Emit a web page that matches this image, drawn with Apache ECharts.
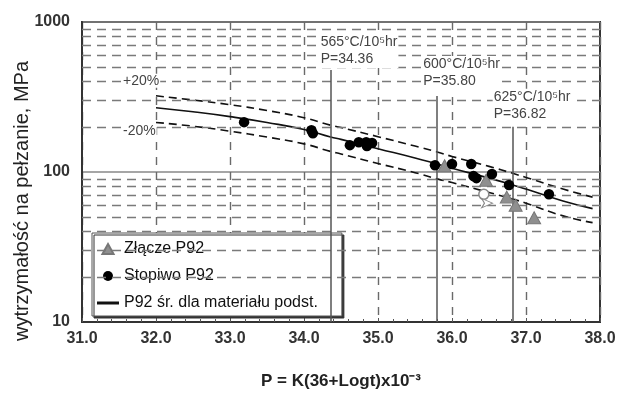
<!DOCTYPE html>
<html><head><meta charset="utf-8">
<script src="https://cdn.jsdelivr.net/npm/echarts/dist/echarts.min.js"></script>
<style>html,body{margin:0;padding:0;background:#fff}#c{width:617px;height:395px}</style>
</head><body><div id="c"></div>
<script>
// ---- data ----
const minorGridValues = [20,30,40,50,60,70,80,90,200,300,400,500,600,700,800,900];
const meanP  = [32.0,32.5,33.0,33.5,34.0,34.36,34.5,35.0,35.5,35.8,36.0,36.5,36.82,37.0,37.5,37.9];
const meanS  = [268,252,234,214,192,171,165,143,124,113,106,91,82,77,64,57];
const upperS = [322,302,281,257,230,205,198,172,149,136,127,109,98,92,77,68];
const lowerS = [214,202,187,171,154,137,132,114,99,90,85,73,66,62,51,46];
const zlaczeP  = [35.90,36.46,36.74,36.86,37.11];
const zlaczeS  = [110,88,68,60,49.5];
const stopiwoP = [33.19,34.10,34.12,34.62,34.74,34.84,34.85,34.92,35.77,36.00,36.26,36.29,36.33,36.54,36.77,37.31];
const stopiwoS = [215,190,181,151,158,158,149,156,111,113,113,94,91,97,82,71];
const runoutP = [36.43];
const runoutS = [71];
const arrowP = [36.55];
const arrowS = [62];
const annotP = [34.36,35.80,36.82];
const annotTemp = ['565','600','625'];
const annotTop = [478,321,200];
const xLabels = ['31.0','32.0','33.0','34.0','35.0','36.0','37.0','38.0'];
const yLabels = {10: '10', 100: '100', 1000: '1000'};

const FONT = 'Liberation Sans, Arial, sans-serif';
const pair = (xs, ys) => xs.map((x, i) => [x, ys[i]]);
const annotOffsets = [[-11,-36],[-15,-40],[-20,-38]];

const chart = echarts.init(document.getElementById('c'), null, {renderer:'canvas'});
chart.setOption({
  animation: false,
  backgroundColor: '#fff',
  textStyle: {fontFamily: FONT},
  grid: {left: 82, right: 17, top: 22, bottom: 73, show: true, borderColor: '#333', borderWidth: 2,
         backgroundColor: 'transparent', containLabel: false, outerBoundsMode: 'none'},
  xAxis: {
    type: 'value', min: 31, max: 38, interval: 1,
    axisLine: {show: true, lineStyle: {color: '#333', width: 2}},
    axisTick: {show: true, inside: true, length: 4, lineStyle: {color: '#555', width: 1}},
    minorTick: {show: true, splitNumber: 5, length: 3, lineStyle: {color: '#555', width: 1}},
    axisLabel: {fontSize: 16, fontWeight: 'bold', color: '#333', margin: 9, fontFamily: FONT,
                formatter: v => xLabels[Math.round(v - 31)]},
    splitLine: {show: true, lineStyle: {color: '#6a6a6a', width: 1.4, type: [8, 7]}}
  },
  yAxis: {
    type: 'log', logBase: 10, min: 10, max: 1000,
    axisLine: {show: true, lineStyle: {color: '#333', width: 2}},
    axisTick: {show: false},
    axisLabel: {fontSize: 16, fontWeight: 'bold', color: '#333', margin: 12, fontFamily: FONT,
                formatter: v => yLabels[Math.round(v)] || ''},
    splitLine: {show: true, lineStyle: {color: '#888', width: 1.5, type: 'solid'}}
  },
  legend: {
    orient: 'vertical', left: 92, top: 233,
    padding: [7, 24, 4, 5], itemGap: 9, itemWidth: 22, itemHeight: 10,
    backgroundColor: '#fff', borderColor: '#555', borderWidth: 1,
    shadowColor: '#333', shadowOffsetX: 2, shadowOffsetY: 2, shadowBlur: 0,
    textStyle: {fontSize: 16, color: '#111', fontFamily: FONT, lineHeight: 18},
    data: [
      {name: 'Złącze P92', icon: 'path://M5,0L10,9L0,9Z'},
      {name: 'Stopiwo P92', icon: 'circle'},
      {name: 'P92 śr. dla materiału podst.', icon: 'path://M0,0H22V3H0Z', itemStyle: {color: '#111', borderWidth: 0}}
    ]
  },
  series: [
    { name: 'grid', type: 'line', data: [], z: 1, silent: true,
      markLine: { silent: true, symbol: ['none','none'], animation: false,
        label: {show: false},
        lineStyle: {color: '#7a7a7a', width: 1.3, type: [9, 6]},
        data: minorGridValues.map(v => ({yAxis: v})) } },
    { name: 'annot', type: 'line', data: [], z: 2, silent: true,
      markLine: { silent: true, symbol: ['none','none'], animation: false,
        label: {show: false},
        lineStyle: {color: '#555', width: 1.5, type: 'solid'},
        data: annotP.map((p, i) => [{coord: [p, annotTop[i]]}, {coord: [p, 10]}]) },
      markPoint: { silent: true, symbol: 'circle', symbolSize: 0, animation: false,
        itemStyle: {color: 'transparent'},
        data: annotP.map((p, i) => ({
          coord: [p, annotTop[i]],
          label: { show: true, position: annotOffsets[i], align: 'left', verticalAlign: 'top',
            formatter: annotTemp[i] + '°C/10⁵hr\nP=' + p.toFixed(2),
            fontSize: 14, lineHeight: 17, color: '#444', fontFamily: FONT,
            backgroundColor: '#fff', padding: [0, 1] }
        })) } },
    { name: 'upper', type: 'line', data: pair(meanP, upperS), z: 3, silent: true,
      showSymbol: false, symbol: 'none', smooth: true,
      lineStyle: {color: '#111', width: 1.6, type: [8, 5]},
      markPoint: { silent: true, symbol: 'circle', symbolSize: 0, itemStyle: {color: 'transparent'},
        data: [{coord: [meanP[0], upperS[0]],
          label: {show: true, position: [-34, -22], align: 'left', verticalAlign: 'top',
            formatter: '+20%', fontSize: 14, color: '#444', fontFamily: FONT,
            backgroundColor: '#fff', padding: [0, 1]}}] } },
    { name: 'lower', type: 'line', data: pair(meanP, lowerS), z: 3, silent: true,
      showSymbol: false, symbol: 'none', smooth: true,
      lineStyle: {color: '#111', width: 1.6, type: [8, 5]},
      markPoint: { silent: true, symbol: 'circle', symbolSize: 0, itemStyle: {color: 'transparent'},
        data: [{coord: [meanP[0], lowerS[0]],
          label: {show: true, position: [-34, 2], align: 'left', verticalAlign: 'top',
            formatter: '-20%', fontSize: 14, color: '#444', fontFamily: FONT,
            backgroundColor: '#fff', padding: [0, 1]}}] } },
    { name: 'P92 śr. dla materiału podst.', type: 'line', data: pair(meanP, meanS), z: 4,
      showSymbol: false, symbol: 'none', smooth: true,
      itemStyle: {color: '#111'}, lineStyle: {color: '#111', width: 1.6} },
    { name: 'Złącze P92', type: 'scatter', data: pair(zlaczeP, zlaczeS), z: 5,
      symbol: 'triangle', symbolSize: [13, 12],
      itemStyle: {color: '#8f8f8f', borderColor: '#777', borderWidth: 1, opacity: 1} },
    { name: 'Stopiwo P92', type: 'scatter', data: pair(stopiwoP, stopiwoS), z: 6,
      symbol: 'circle', symbolSize: 10.5,
      itemStyle: {color: '#000', opacity: 1} },
    { name: 'runout', type: 'scatter', data: pair(runoutP, runoutS), z: 6,
      symbol: 'circle', symbolSize: 10,
      itemStyle: {color: '#fff', borderColor: '#888', borderWidth: 1.5, opacity: 1} },
    { name: 'arrow', type: 'scatter', data: pair(arrowP, arrowS), z: 6,
      symbol: 'arrow', symbolSize: [7, 11], symbolRotate: -90,
      itemStyle: {color: '#fff', borderColor: '#888', borderWidth: 1, opacity: 1} }
  ],
  graphic: [
    { type: 'text', x: 22, y: 201, rotation: Math.PI / 2, silent: true,
      style: {text: 'wytrzymałość na pełzanie, MPa', fontSize: 20, fontFamily: FONT, fill: '#222',
              align: 'center', verticalAlign: 'middle'} },
    { type: 'text', x: 341, y: 381, silent: true,
      style: {text: 'P = K(36+Logt)x10⁻³', fontSize: 17, fontWeight: 'bold', fontFamily: FONT,
              fill: '#222', align: 'center', verticalAlign: 'middle'} }
  ]
});
</script></body></html>
